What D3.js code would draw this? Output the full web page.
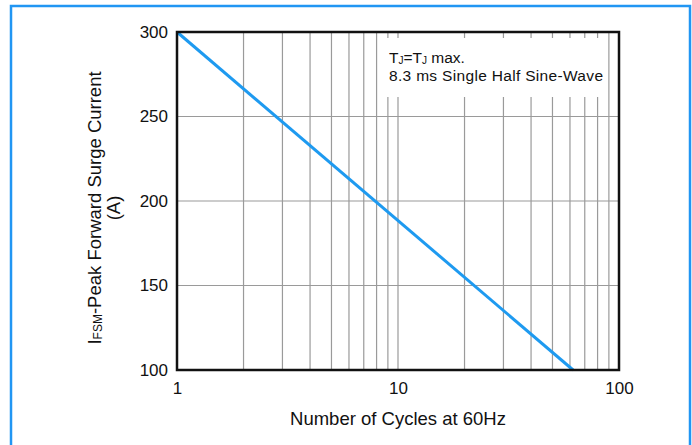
<!DOCTYPE html>
<html><head><meta charset="utf-8">
<script src="https://cdn.jsdelivr.net/npm/d3@7"></script>
<style>body{margin:0;background:#fff}svg{display:block}text{font-family:"Liberation Sans",Arial,sans-serif;fill:#111}</style>
</head><body>
<svg id="c" width="692" height="445"></svg>
<script>
const cycles = [1, 62];
const current = [300, 100];
const xTicks = [1, 10, 100];
const yTicks = [100, 150, 200, 250, 300];
const xGrid = [2,3,4,5,6,7,8,9,10,20,30,40,50,60,70,80,90];
const yGrid = [150, 200, 250];
const noteLine2 = "8.3 ms Single Half Sine-Wave";

const svg = d3.select("#c");
const L=177, R=619, T=32, B=370;
const x = d3.scaleLog().domain([1,100]).range([L,R]);
const y = d3.scaleLinear().domain([100,300]).range([B,T]);

svg.append("rect").attr("x",11).attr("y",6).attr("width",679).attr("height",445)
  .attr("fill","none").attr("stroke","#2196f3").attr("stroke-width",2.5);

const g = svg.append("g");
g.selectAll("line.vg").data(xGrid).join("line").attr("class","vg")
  .attr("x1",d=>x(d)).attr("x2",d=>x(d)).attr("y1",T).attr("y2",B)
  .attr("stroke","#9a9a9a").attr("stroke-width",1.2);
g.selectAll("line.hg").data(yGrid).join("line").attr("class","hg")
  .attr("x1",L).attr("x2",R).attr("y1",d=>y(d)).attr("y2",d=>y(d))
  .attr("stroke","#9a9a9a").attr("stroke-width",1.2);

// annotation box
g.append("rect").attr("x",383).attr("y",38).attr("width",222).attr("height",59).attr("fill","#fff");
const t1 = g.append("text").attr("x",389).attr("y",63).attr("font-size",15.5);
t1.append("tspan").text("T");
t1.append("tspan").attr("font-size",10).attr("dy",1).text("J");
t1.append("tspan").attr("dy",-1).text("=T");
t1.append("tspan").attr("font-size",10).attr("dy",1).text("J");
t1.append("tspan").attr("dy",-1).text(" max.");
g.append("text").attr("x",389).attr("y",81).attr("font-size",15.5).attr("textLength",214).text(noteLine2);

const line = d3.line().x((d,i)=>x(cycles[i])).y((d,i)=>y(current[i]));
g.append("path").datum(cycles).attr("d",line).attr("fill","none")
  .attr("stroke","#1e9af0").attr("stroke-width",3);

g.append("rect").attr("x",L).attr("y",T).attr("width",R-L).attr("height",B-T)
  .attr("fill","none").attr("stroke","#111").attr("stroke-width",2.5);

const xa = svg.append("g").attr("transform",`translate(0,${B})`)
  .call(d3.axisBottom(x).tickValues(xTicks).tickFormat(d3.format("d")).tickSize(0).tickPadding(12));
xa.select(".domain").remove();
xa.selectAll("text").attr("font-size",17).attr("fill","#111");
const ya = svg.append("g").attr("transform",`translate(${L},0)`)
  .call(d3.axisLeft(y).tickValues(yTicks).tickSize(0).tickPadding(9));
ya.select(".domain").remove();
ya.selectAll("text").attr("font-size",17).attr("fill","#111");

svg.append("text").attr("x",398).attr("y",425).attr("text-anchor","middle").attr("font-size",18.5)
  .text("Number of Cycles at 60Hz");
const yt = svg.append("text").attr("transform","translate(101,208) rotate(-90)").attr("text-anchor","middle").attr("font-size",18.5);
yt.append("tspan").text("I");
yt.append("tspan").attr("font-size",12).attr("dy",1).text("FSM");
yt.append("tspan").attr("dy",-1).text("-Peak Forward Surge Current");
svg.append("text").attr("transform","translate(120,208) rotate(-90)").attr("text-anchor","middle").attr("font-size",18.5).text("(A)");
</script>
</body></html>
